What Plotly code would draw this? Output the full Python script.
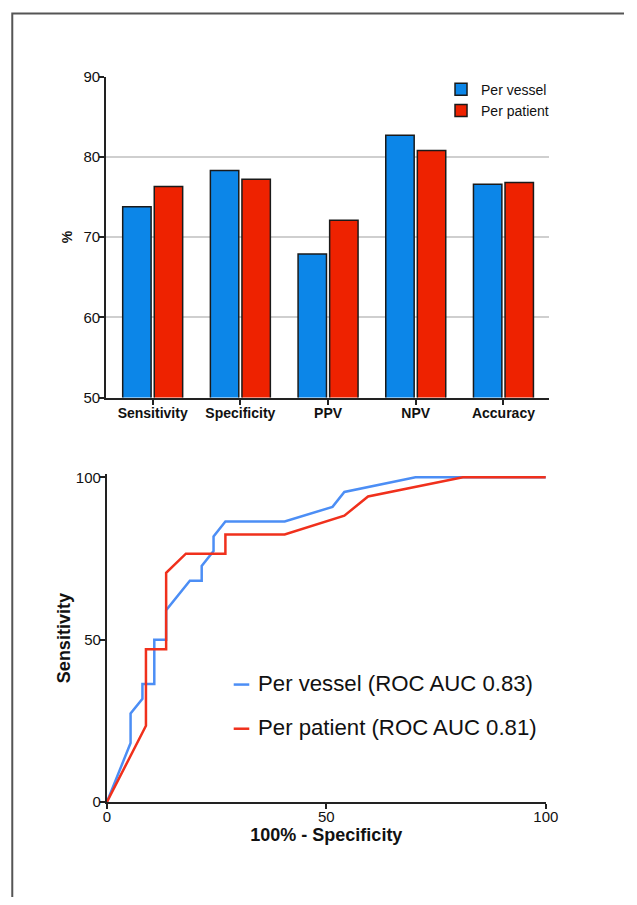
import plotly.graph_objects as go

# Diagnostic performance per metric (%)
metrics = ["Sensitivity", "Specificity", "PPV", "NPV", "Accuracy"]
per_vessel = [73.8, 78.3, 67.9, 82.7, 76.6]
per_patient = [76.3, 77.2, 72.1, 80.8, 76.8]

# ROC curve: x = 100% - specificity, y = sensitivity
roc_vessel_x = [0, 5.4, 5.4, 8.1, 8.1, 10.8, 10.8, 13.5, 13.5, 18.9, 21.6, 21.6,
                24.3, 24.3, 27.0, 40.5, 51.4, 54.1, 70.3, 100]
roc_vessel_y = [0, 18.2, 27.3, 31.8, 36.4, 36.4, 50.0, 50.0, 59.1, 68.2, 68.2, 72.7,
                77.3, 81.8, 86.4, 86.4, 90.9, 95.5, 100, 100]
roc_patient_x = [0, 8.9, 8.9, 13.5, 13.5, 18.0, 27.0, 27.0, 40.5, 54.1, 59.5, 81.1, 100]
roc_patient_y = [0, 23.5, 47.1, 47.1, 70.6, 76.5, 76.5, 82.4, 82.4, 88.2, 94.1, 100, 100]

roc_names = ["Per vessel (ROC AUC 0.83)", "Per patient (ROC AUC 0.81)"]

W, H = 637, 905
FONT = "Arial, Liberation Sans, Helvetica, sans-serif"
BAR_BLUE, BAR_RED = "#0C86E8", "#EE2200"
LINE_BLUE, LINE_RED = "#4C8EF5", "#F0301C"


def px(x):
    return x / W


def py(y):
    return 1 - y / H


fig = go.Figure()

fig.add_trace(go.Bar(x=metrics, y=per_vessel, name="Per vessel",
                     marker=dict(color=BAR_BLUE, line=dict(color="#1a1a1a", width=1.5)),
                     xaxis="x", yaxis="y", legend="legend"))
fig.add_trace(go.Bar(x=metrics, y=per_patient, name="Per patient",
                     marker=dict(color=BAR_RED, line=dict(color="#1a1a1a", width=1.5)),
                     xaxis="x", yaxis="y", legend="legend"))

fig.add_trace(go.Scatter(x=roc_vessel_x, y=roc_vessel_y, mode="lines", name=roc_names[0],
                         line=dict(color=LINE_BLUE, width=2.5), showlegend=False,
                         xaxis="x2", yaxis="y2"))
fig.add_trace(go.Scatter(x=roc_patient_x, y=roc_patient_y, mode="lines", name=roc_names[1],
                         line=dict(color=LINE_RED, width=2.5), showlegend=False,
                         xaxis="x2", yaxis="y2"))

axis_common = dict(showline=True, linecolor="#222", linewidth=2, ticks="outside",
                   ticklen=5, tickwidth=1.5, tickcolor="#222", zeroline=False)

fig.update_layout(
    width=W, height=H,
    margin=dict(l=0, r=0, t=0, b=0),
    paper_bgcolor="white", plot_bgcolor="white",
    font=dict(family=FONT, color="#111"),
    bargap=0.28, bargroupgap=0.1,
    xaxis=dict(domain=[px(105), px(560)], type="category", range=[-0.53, 4.52],
               tickfont=dict(size=14, weight="bold"), ticklabelstandoff=-3,
               showgrid=False, anchor="y", **axis_common),
    yaxis=dict(domain=[py(396), py(69)], range=[50, 90], dtick=10,
               tickfont=dict(size=15), ticklabelstandoff=-4,
               showgrid=True, gridcolor="#cfcfcf", gridwidth=1.5,
               title=dict(text="%", font=dict(size=14, weight="bold"), standoff=8),
               anchor="x", **axis_common),
    xaxis2=dict(domain=[px(105.7), px(556.7)], range=[0, 100], tickvals=[0, 50, 100],
                tickfont=dict(size=15), ticklabelstandoff=-5,
                showgrid=False, anchor="y2",
                title=dict(text="100% - Specificity", font=dict(size=18, weight="bold"),
                           standoff=3),
                **axis_common),
    yaxis2=dict(domain=[py(808.3), py(474)], range=[0, 101], tickvals=[0, 50, 100],
                tickfont=dict(size=15), ticklabelstandoff=-4,
                showgrid=False, anchor="x2",
                title=dict(text="Sensitivity", font=dict(size=18, weight="bold"),
                           standoff=1),
                **axis_common),
    legend=dict(x=px(449), y=py(66), xanchor="left", yanchor="top",
                bgcolor="rgba(0,0,0,0)", font=dict(size=14), tracegroupgap=0,
                itemclick=False),
)

# ROC legend: short line keys with labels
for name, color, yk in zip(roc_names, [LINE_BLUE, LINE_RED], [688.5, 733.5]):
    fig.add_shape(type="line", xref="paper", yref="paper",
                  x0=px(236), x1=px(252), y0=py(yk), y1=py(yk),
                  line=dict(color=color, width=2.5))
    fig.add_annotation(text=name, xref="paper", yref="paper", x=px(259), y=py(yk - 1),
                       xanchor="left", yanchor="middle", showarrow=False,
                       font=dict(size=22.2, color="#111"))

# Page frame
fig.add_shape(type="path", xref="paper", yref="paper",
              path=f"M {px(8.5)} {py(905)} L {px(8.5)} {py(4.5)} L {px(637)} {py(4.5)}",
              line=dict(color="#555", width=2))

fig.write_html("out.html")
